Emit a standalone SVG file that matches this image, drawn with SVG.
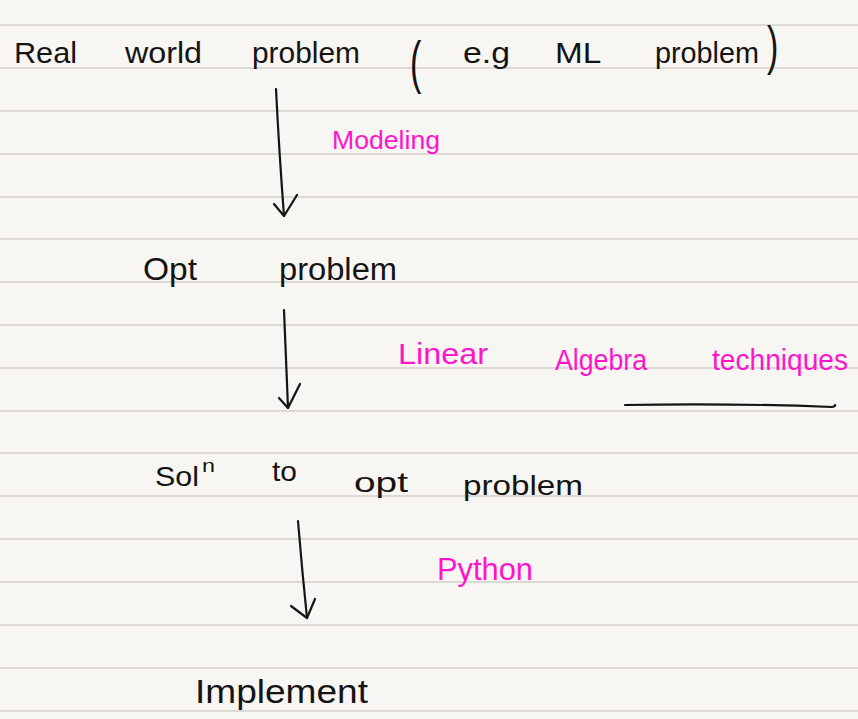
<svg xmlns="http://www.w3.org/2000/svg" width="858" height="719" viewBox="0 0 858 719">
  <defs>
    <style>
      .ink { font-family: "Liberation Sans", Arial, sans-serif; fill: #141414; }
      .pink { font-family: "Liberation Sans", Arial, sans-serif; fill: #ff14cc; }
      .rule { stroke: #dcd9d4; stroke-width: 2; }
      .stroke { fill: none; stroke: #141414; stroke-width: 2.2; stroke-linecap: round; stroke-linejoin: round; }
    </style>
  </defs>
  <rect x="0" y="0" width="858" height="719" fill="#f8f6f2"/>
  <g id="paper-lines">
    <line class="rule" x1="0" y1="25" x2="858" y2="25"/>
    <line class="rule" x1="0" y1="68" x2="858" y2="68"/>
    <line class="rule" x1="0" y1="111" x2="858" y2="111"/>
    <line class="rule" x1="0" y1="154" x2="858" y2="154"/>
    <line class="rule" x1="0" y1="197" x2="858" y2="197"/>
    <line class="rule" x1="0" y1="239" x2="858" y2="239"/>
    <line class="rule" x1="0" y1="282" x2="858" y2="282"/>
    <line class="rule" x1="0" y1="325" x2="858" y2="325"/>
    <line class="rule" x1="0" y1="368" x2="858" y2="368"/>
    <line class="rule" x1="0" y1="411" x2="858" y2="411"/>
    <line class="rule" x1="0" y1="453" x2="858" y2="453"/>
    <line class="rule" x1="0" y1="496" x2="858" y2="496"/>
    <line class="rule" x1="0" y1="539" x2="858" y2="539"/>
    <line class="rule" x1="0" y1="582" x2="858" y2="582"/>
    <line class="rule" x1="0" y1="625" x2="858" y2="625"/>
    <line class="rule" x1="0" y1="668" x2="858" y2="668"/>
    <line class="rule" x1="0" y1="711" x2="858" y2="711"/>
  </g>

  <g id="real-world-problem">
    <text class="ink" font-size="30" y="63"><tspan x="14" textLength="63" lengthAdjust="spacingAndGlyphs">Real</tspan> <tspan x="125" textLength="77" lengthAdjust="spacingAndGlyphs">world</tspan> <tspan x="252" textLength="108" lengthAdjust="spacingAndGlyphs">problem</tspan></text>
    <text class="ink" font-size="34" transform="translate(410,82) scale(1,1.7)">(</text>
    <text class="ink" font-size="30" y="63"><tspan x="463" textLength="47" lengthAdjust="spacingAndGlyphs">e.g</tspan> <tspan x="555" textLength="45" lengthAdjust="spacingAndGlyphs">ML</tspan> <tspan x="655" textLength="104" lengthAdjust="spacingAndGlyphs">problem</tspan></text>
    <text class="ink" font-size="34" transform="translate(767,64) scale(1,1.6)">)</text>
  </g>

  <g id="opt-problem">
    <text class="ink" font-size="31" y="280"><tspan x="143" textLength="54" lengthAdjust="spacingAndGlyphs">Opt</tspan> <tspan x="279" textLength="118" lengthAdjust="spacingAndGlyphs">problem</tspan></text>
  </g>

  <g id="soln-to-opt-problem">
    <text class="ink" font-size="28" y="486"><tspan x="155" textLength="44" lengthAdjust="spacingAndGlyphs">Sol</tspan><tspan x="202" y="472" font-size="18" textLength="13" lengthAdjust="spacingAndGlyphs">n</tspan> <tspan x="272" y="481" textLength="25" lengthAdjust="spacingAndGlyphs">to</tspan> <tspan x="354" y="492" textLength="54" lengthAdjust="spacingAndGlyphs">opt</tspan> <tspan x="463" y="495" textLength="120" lengthAdjust="spacingAndGlyphs">problem</tspan></text>
  </g>

  <g id="implement">
    <text class="ink" font-size="34" x="195" y="703" textLength="173" lengthAdjust="spacingAndGlyphs">Implement</text>
  </g>

  <g id="connectors">
    <g id="arrow-modeling">
      <path class="stroke" d="M276 89 Q279 150 284 216"/>
      <path class="stroke" d="M274 204 L284 216 L297 195"/>
      <text class="pink" font-size="25" x="332" y="149" textLength="108" lengthAdjust="spacingAndGlyphs">Modeling</text>
    </g>
    <g id="arrow-linear-algebra">
      <path class="stroke" d="M284 310 Q286 360 288 408"/>
      <path class="stroke" d="M279 398 L288 408 L300 384"/>
      <text class="pink" font-size="29" y="364"><tspan x="398" textLength="90" lengthAdjust="spacingAndGlyphs">Linear</tspan> <tspan x="555" y="370" textLength="92" lengthAdjust="spacingAndGlyphs">Algebra</tspan> <tspan x="712" y="370" textLength="136" lengthAdjust="spacingAndGlyphs">techniques</tspan></text>
      <path class="stroke" d="M625 405 Q730 403 832 407 Q836 406 835 405"/>
    </g>
    <g id="arrow-python">
      <path class="stroke" d="M298 521 Q302 570 307 618"/>
      <path class="stroke" d="M291 606 L307 618 L315 599"/>
      <text class="pink" font-size="32" x="437" y="580" textLength="96" lengthAdjust="spacingAndGlyphs">Python</text>
    </g>
  </g>
</svg>
